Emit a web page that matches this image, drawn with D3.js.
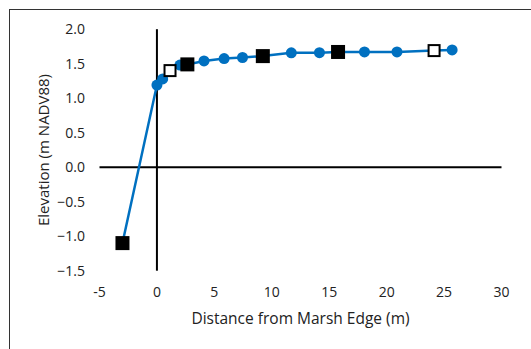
<!DOCTYPE html>
<html><head><meta charset="utf-8">
<script src="https://cdn.jsdelivr.net/npm/d3@7"></script>
<style>body{margin:0;background:#fff}svg{display:block}text{font-family:"Open Sans",sans-serif;fill:#222}</style>
</head><body><svg id="c" width="531" height="349"></svg>
<script>
// Profile points (distance m, elevation m NADV88)
const profileX = [-3.0, 0.0, 0.5, 1.14, 2.0, 2.65, 4.1, 5.85, 7.45, 9.22, 11.7, 14.15, 15.77, 18.07, 20.9, 24.13, 25.7];
const profileY = [-1.1, 1.19, 1.28, 1.40, 1.48, 1.49, 1.54, 1.575, 1.59, 1.61, 1.657, 1.66, 1.67, 1.67, 1.67, 1.69, 1.70];
// Circle markers
const circleX = [0.0, 0.5, 2.0, 4.1, 5.85, 7.45, 11.7, 14.15, 18.07, 20.9, 25.7];
const circleY = [1.19, 1.28, 1.48, 1.54, 1.575, 1.59, 1.657, 1.66, 1.67, 1.67, 1.70];
// Filled square markers
const filledX = [-3.0, 2.65, 9.22, 15.77];
const filledY = [-1.1, 1.49, 1.61, 1.67];
// Open square markers
const openX = [1.14, 24.13];
const openY = [1.40, 1.69];
const xTicks = [-5, 0, 5, 10, 15, 20, 25, 30];
const yTicks = [-1.5, -1.0, -0.5, 0.0, 0.5, 1.0, 1.5, 2.0];

const svg = d3.select("#c");
svg.append("rect").attr("x",9.5).attr("y",9.5).attr("width",540).attr("height",360)
  .attr("fill","none").attr("stroke","#333").attr("stroke-width",1);

const x = d3.scaleLinear().domain([-5,30]).range([99.5,501.5]);
const y = d3.scaleLinear().domain([-1.5,2.0]).range([270.7,29.2]);

// axis lines through zero
svg.append("line").attr("x1",x(-5)).attr("x2",x(30)).attr("y1",y(0)).attr("y2",y(0))
  .attr("stroke","#000").attr("stroke-width",2);
svg.append("line").attr("x1",x(0)).attr("x2",x(0)).attr("y1",y(-1.5)).attr("y2",y(2))
  .attr("stroke","#000").attr("stroke-width",2);

// tick labels
svg.append("g").selectAll("text").data(yTicks).join("text")
  .attr("x",85).attr("y",d=>y(d)).attr("dy","0.35em").attr("text-anchor","end")
  .attr("font-size",14).text(d=>d3.format(".1f")(d));
svg.append("g").selectAll("text").data(xTicks).join("text")
  .attr("x",d=>x(d)).attr("y",292).attr("dy","0.35em").attr("text-anchor","middle")
  .attr("font-size",14).text(d=>d);

svg.append("text").attr("x",300.5).attr("y",319).attr("dy","0.35em").attr("text-anchor","middle")
  .attr("font-size",15.5).text("Distance from Marsh Edge (m)");
svg.append("text").attr("transform","translate(44,150) rotate(-90)").attr("dy","0.35em")
  .attr("text-anchor","middle").attr("font-size",15).text("Elevation (m NADV88)");

const pts = profileX.map((d,i)=>[d,profileY[i]]);
svg.append("path").datum(pts).attr("fill","none").attr("stroke","#0070C0").attr("stroke-width",2.5)
  .attr("d",d3.line().x(d=>x(d[0])).y(d=>y(d[1])));

svg.append("g").selectAll("circle").data(circleX).join("circle")
  .attr("cx",d=>x(d)).attr("cy",(d,i)=>y(circleY[i])).attr("r",5.5).attr("fill","#0070C0");

const s = 13;
svg.append("g").selectAll("rect").data(filledX).join("rect")
  .attr("x",d=>x(d)-s/2-0.5).attr("y",(d,i)=>y(filledY[i])-s/2-0.5).attr("width",s+1).attr("height",s+1)
  .attr("fill","#000");
svg.append("g").selectAll("rect").data(openX).join("rect")
  .attr("x",d=>x(d)-s/2+1).attr("y",(d,i)=>y(openY[i])-s/2+1).attr("width",s-2).attr("height",s-2)
  .attr("fill","#fff").attr("stroke","#000").attr("stroke-width",2);
</script></body></html>
